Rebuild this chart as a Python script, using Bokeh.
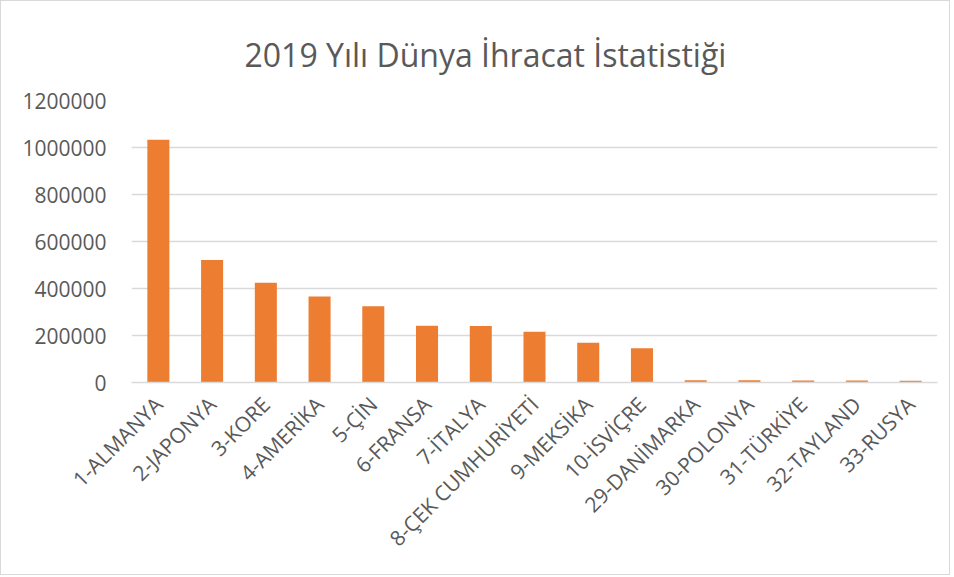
import math
from bokeh.plotting import figure
from bokeh.models import FactorRange, Range1d, FixedTicker, BasicTickFormatter, ColumnDataSource
from bokeh.embed import file_html
from bokeh.resources import INLINE

countries = ["1-ALMANYA", "2-JAPONYA", "3-KORE", "4-AMERİKA", "5-ÇİN", "6-FRANSA", "7-İTALYA",
             "8-ÇEK CUMHURİYETİ", "9-MEKSİKA", "10-İSVİÇRE", "29-DANİMARKA", "30-POLONYA",
             "31-TÜRKİYE", "32-TAYLAND", "33-RUSYA"]
exports = [1033000, 521000, 425000, 366000, 325000, 241000, 240000,
           216000, 169000, 146000, 10000, 10000, 8000, 8000, 7000]
y_ticks = [0, 200000, 400000, 600000, 800000, 1000000, 1200000]

FONT = "Open Sans"
GREY = "#595959"

src = ColumnDataSource(data=dict(x=countries, y=exports))

p = figure(width=950, height=575, output_backend="svg", toolbar_location=None,
           x_range=FactorRange(*countries, range_padding=0),
           y_range=Range1d(0, 1200000),
           title="2019 Yılı Dünya İhracat İstatistiği",
           min_border_left=130, min_border_right=14, min_border_top=99, min_border_bottom=194)

p.vbar(x="x", top="y", width=0.41, source=src, fill_color="#ED7D31", line_color=None)

p.title.align = "left"
p.title.offset = 113
p.title.text_font = FONT
p.title.text_font_size = "32px"
p.title.text_font_style = "normal"
p.title.text_color = GREY
p.title.standoff = 50

p.outline_line_color = None
p.background_fill_color = "white"
p.border_fill_color = "white"
p.styles = {"border": "1px solid #d9d9d9"}

p.xgrid.grid_line_color = None
p.ygrid.grid_line_color = "#d9d9d9"
p.ygrid.grid_line_width = 1.3

p.yaxis.ticker = FixedTicker(ticks=y_ticks)
p.yaxis.formatter = BasicTickFormatter(use_scientific=False)
p.yaxis.axis_line_color = None
p.yaxis.major_tick_line_color = None
p.yaxis.minor_tick_line_color = None
p.yaxis.major_label_standoff = 19
p.yaxis.major_label_text_font = FONT
p.yaxis.major_label_text_font_size = "21px"
p.yaxis.major_label_text_color = GREY

p.xaxis.axis_line_color = "#d9d9d9"
p.xaxis.axis_line_width = 1.3
p.xaxis.major_tick_line_color = None
p.xaxis.minor_tick_line_color = None
p.xaxis.major_label_orientation = math.pi / 4
p.xaxis.major_label_standoff = 12
p.xaxis.major_label_text_font = FONT
p.xaxis.major_label_text_font_size = "21px"
p.xaxis.major_label_text_color = GREY

open("out.html", "w").write(file_html(p, INLINE))
